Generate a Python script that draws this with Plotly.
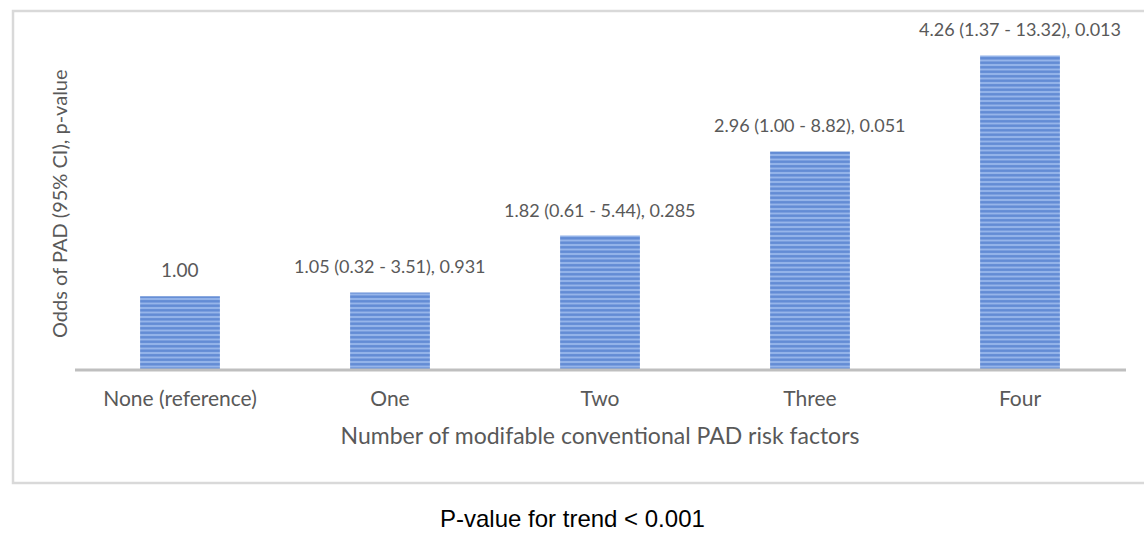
import plotly.graph_objects as go

categories = ["None (reference)", "One", "Two", "Three", "Four"]
odds = [1.00, 1.05, 1.82, 2.96, 4.26]
labels = ["1.00", "1.05 (0.32 - 3.51), 0.931", "1.82 (0.61 - 5.44), 0.285",
          "2.96 (1.00 - 8.82), 0.051", "4.26 (1.37 - 13.32), 0.013"]
label_sizes = [19, 18, 18, 18, 18]

W, H = 1144, 533
ml, mr, mt, mb = 75, 19, 20, 163
pw, ph = W - ml - mr, H - mt - mb

def px(x):
    return (x - ml) / pw

def py(y):
    return (H - mb - y) / ph

FONT = "Lato, Open Sans, sans-serif"

fig = go.Figure()
fig.add_trace(go.Bar(
    x=categories, y=odds,
    marker=dict(color="#8fb0e6", line=dict(width=0),
                pattern=dict(shape="-", fgcolor="#2c5fbd", bgcolor="#96b5ea",
                             size=4.5, solidity=0.55, fillmode="overlay")),
    width=0.38,
    hoverinfo="skip",
))

for c, v, t, s in zip(categories, odds, labels, label_sizes):
    fig.add_annotation(x=c, y=v, text=t, showarrow=False, yanchor="bottom",
                       yshift=13, font=dict(family=FONT, size=s, color="#595959"))

fig.add_annotation(x=px(572), y=py(518), xref="paper", yref="paper",
                   xanchor="center", yanchor="middle",
                   text="P-value for trend < 0.001", showarrow=False,
                   font=dict(family="Liberation Sans, Arial, sans-serif", size=24, color="#000000"))

fig.add_annotation(x=px(59), y=py(204), xref="paper", yref="paper",
                   xanchor="center", yanchor="middle", textangle=-90,
                   text="Odds of PAD (95% CI), p-value", showarrow=False,
                   font=dict(family=FONT, size=20, color="#595959"))

shapes = [
    dict(type="rect", xref="paper", yref="paper", x0=px(13), x1=px(1150),
         y0=py(483), y1=py(11), line=dict(color="#d9d9d9", width=2.5), layer="below"),
    dict(type="line", xref="paper", yref="paper", x0=0, x1=px(1126),
         y0=0, y1=0, line=dict(color="#bfbfbf", width=3)),
]

fig.update_layout(
    width=W, height=H,
    margin=dict(l=ml, r=mr, t=mt, b=mb),
    paper_bgcolor="white", plot_bgcolor="white",
    showlegend=False,
    shapes=shapes,
    font=dict(family=FONT, color="#595959"),
    xaxis=dict(showline=False, showgrid=False, zeroline=False, ticks="",
               tickfont=dict(size=21, color="#595959"), ticklabelstandoff=14,
               title=dict(text="Number of modifable conventional PAD risk factors",
                          font=dict(size=23, color="#595959"), standoff=18)),
    yaxis=dict(range=[0, 4.74], showticklabels=False, showgrid=False, zeroline=False,
               showline=False, ticks=""),
)

fig.write_html("out.html", config={"displayModeBar": False},
               post_script="document.body.style.margin='0';window.dispatchEvent(new Event('resize'));")
